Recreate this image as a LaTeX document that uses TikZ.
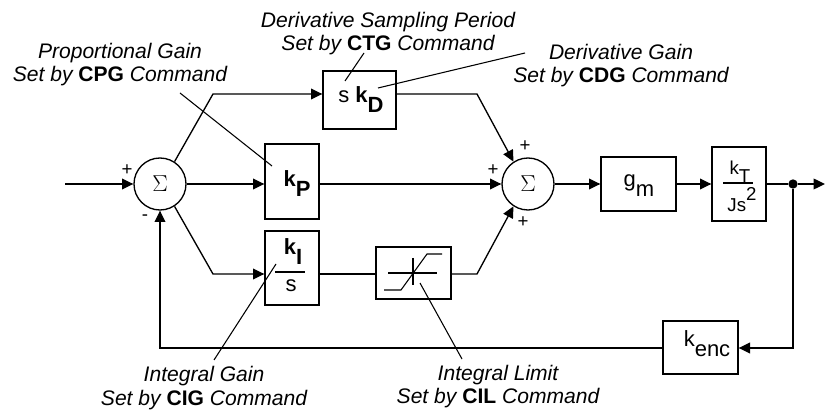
\documentclass[tikz,border=0pt]{standalone}
\usepackage{fontspec}
\setmainfont{Liberation Sans}
\usetikzlibrary{arrows.meta}
\newcommand\lsub[1]{\raisebox{-0.42em}{#1}}
\newcommand\cmdname[1]{{\upshape\bfseries #1}}
\begin{document}
\begin{tikzpicture}[x=0.75pt,y=-0.75pt,
  line width=1pt,
  >={Triangle[length=8.5pt,width=8pt]},
  blk/.style={draw, rectangle, inner sep=0pt},
  sumn/.style={draw, circle, inner sep=0pt, minimum size=39pt, font=\fontsize{17}{17}\selectfont},
  btxt/.style={inner sep=0pt, anchor=base, font=\fontsize{16.5}{18}\selectfont},
  ftxt/.style={inner sep=0pt, anchor=base, font=\fontsize{14}{15}\selectfont},
  sgn/.style={inner sep=0pt, font=\fontsize{14}{14}\selectfont},
  lbl/.style={align=center, inner sep=0pt, anchor=base, font=\fontsize{15.8}{17.25}\selectfont\itshape},
  lead/.style={line width=0.8pt},
  thinl/.style={line width=0.8pt}
]
\useasboundingbox (0,0) rectangle (825,413);

% summing junctions
\node[sumn] (s1) at (160,184) {$\Sigma$};
\node[sumn] (s2) at (528,184) {$\Sigma$};

% blocks
\node[blk, minimum width=54.75pt, minimum height=43.5pt] (skd) at (359.5,100) {};
\node[btxt] (skdt) at (361,103) {s \textbf{k\lsub{D}}};
\node[blk, minimum width=40.5pt, minimum height=56.25pt] (kp) at (292,181.5) {};
\node[btxt] (kpt) at (297,187) {\textbf{k\lsub{P}}};
\node[blk, minimum width=40.5pt, minimum height=55.5pt] (ki) at (292,268) {};
\node[btxt] (kit) at (293,255) {\textbf{k\lsub{I}}};
\node[btxt] (kis) at (291,292) {s};
\draw[thinl] (275,272) -- (305,272);
\node[blk, minimum width=56.25pt, minimum height=39pt] (lim) at (413.5,273) {};
\draw[thinl] (388,273) -- (437,273);
\draw[thinl] (413,258) -- (413,285);
\draw[thinl] (384,290) -- (401,290) -- (427,254) -- (442,254);
\node[blk, minimum width=56.25pt, minimum height=40.5pt] (gm) at (638.5,184) {};
\node[btxt] (gmt) at (639,187) {g\lsub{m}};
\node[blk, minimum width=40.5pt, minimum height=55.5pt] (kt) at (739,184) {};
\node[ftxt] (ktt) at (740,175) {k\lsub{T}};
\draw[thinl] (723,183) -- (753,183);
\node[ftxt] (kts) at (742,212) {Js\raisebox{0.6em}{2}};
\node[blk, minimum width=56.25pt, minimum height=39.75pt] (kenc) at (700.5,347.5) {};
\node[btxt] (kenct) at (707,347) {k\lsub{enc}};
\node[circle, fill, inner sep=0pt, minimum size=7pt] (dot) at (793,184) {};

% coordinates
\coordinate (in) at (65,184);
\coordinate (t1) at (213,94);
\coordinate (t2) at (477,94);
\coordinate (b1) at (213,274);
\coordinate (b2) at (477,274);
\coordinate (out) at (825,184);
\coordinate (fb) at (793,348);

% connectors
\draw[->] (in) -- (s1.west);
\draw[->] (s1.east) -- (s1.east -| kp.west);
\draw[->] (s1.57) -- (t1) -- (t1 -| skd.west);
\draw[->] (t2 -| skd.east) -- (t2) -- (s2.123);
\draw[->] (s1.-57) -- (b1) -- (b1 -| ki.west);
\draw (b1 -| ki.east) -- (b1 -| lim.west);
\draw[->] (b2 -| lim.east) -- (b2) -- (s2.-123);
\draw[->] (s2.west -| kp.east) -- (s2.west);
\draw[->] (s2.east) -- (s2.east -| gm.west);
\draw[->] (gm.east) -- (gm.east -| kt.west);
\draw (kt.east) -- (dot);
\draw[->] (dot) -- (out);
\draw[->] (dot) -- (fb) -- (fb -| kenc.east);
\draw[->] (fb -| kenc.west) -- (fb -| s1.south) -- (s1.south);

% signs
\node[sgn] (p1) at (127,170) {+};
\node[sgn] (m1) at (145,218) {-};
\node[sgn] (p2) at (525,146) {+};
\node[sgn] (p3) at (493,170) {+};
\node[sgn] (p4) at (523,222) {+};

% labels (anchor = baseline of last line)
\node[lbl] (lctg) at (388,51) {Derivative Sampling Period\\Set by \cmdname{CTG} Command};
\node[lbl] (lcpg) at (120,82) {Proportional Gain\\Set by \cmdname{CPG} Command};
\node[lbl] (lcdg) at (621,83) {Derivative Gain\\Set by \cmdname{CDG} Command};
\node[lbl] (lcig) at (204,405) {Integral Gain\\Set by \cmdname{CIG} Command};
\node[lbl] (lcil) at (498,403) {Integral Limit\\Set by \cmdname{CIL} Command};

% leaders
\coordinate (a1) at (364,53); \coordinate (a2) at (345,81);
\coordinate (c1) at (180,93); \coordinate (c2) at (272,166);
\coordinate (d1) at (525,53); \coordinate (d2) at (378,88);
\coordinate (e1) at (214,360); \coordinate (e2) at (276,264);
\coordinate (f1) at (462,359); \coordinate (f2) at (420,283);
\draw[lead] (a1) -- (a2);
\draw[lead] (c1) -- (c2);
\draw[lead] (d1) -- (d2);
\draw[lead] (e1) -- (e2);
\draw[lead] (f1) -- (f2);
\end{tikzpicture}
\end{document}
